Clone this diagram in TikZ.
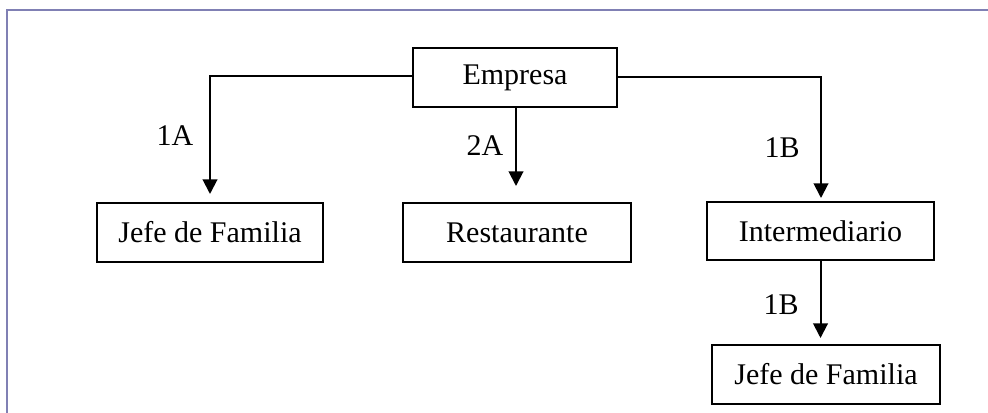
\documentclass[tikz,border=0pt]{standalone}
\usepackage{fontspec}
\setmainfont{Liberation Serif}
\usetikzlibrary{arrows.meta}
\definecolor{framecol}{RGB}{128,128,180}
\begin{document}
\begin{tikzpicture}[x=0.75pt,y=-0.75pt,
  box/.style={draw=black,line width=1.5pt,fill=white,inner sep=0pt,
    minimum height=44pt,font=\fontsize{22.5}{27}\selectfont},
  flow/.style={draw=black,line width=1.5pt,-{Triangle[width=11pt,length=11pt]}},
  tag/.style={font=\fontsize{22.5}{27}\selectfont,inner sep=0pt}]
\useasboundingbox (0,0) rectangle (988,413);
% outer frame, running off the right and bottom edges
\draw[framecol,line width=1.6pt] (7,420) -- (7,10) -- (995,10);
% boxes
\node[box,minimum width=153pt] (emp) at (515,77.5) {Empresa};
\node[box,minimum width=169.5pt] (jf1) at (210,232.5) {Jefe de Familia};
\node[box,minimum width=171pt] (rest) at (517,232.5) {Restaurante};
\node[box,minimum width=170pt] (inter) at (820.5,231) {Intermediario};
\node[box,minimum width=171pt] (jf2) at (826,374.5) {Jefe de Familia};
% connectors
\coordinate (tipA) at (210,194);
\coordinate (tipR) at (516,186);
\coordinate (tipB) at (821,198);
\coordinate (tipC) at (820.5,338);
\draw[flow] (emp.west |- 0,76) -| (tipA);
\draw[flow] (tipR |- emp.south) -- (tipR);
\draw[flow] (emp.east |- 0,77) -| (tipB);
\draw[flow] (inter.south) -- (tipC);
% labels
\node[tag] (l1A) at (175,136) {1A};
\node[tag] (l2A) at (485,146) {2A};
\node[tag] (l1B) at (782,148) {1B};
\node[tag] (l1Bb) at (781,305) {1B};
\end{tikzpicture}
\end{document}
